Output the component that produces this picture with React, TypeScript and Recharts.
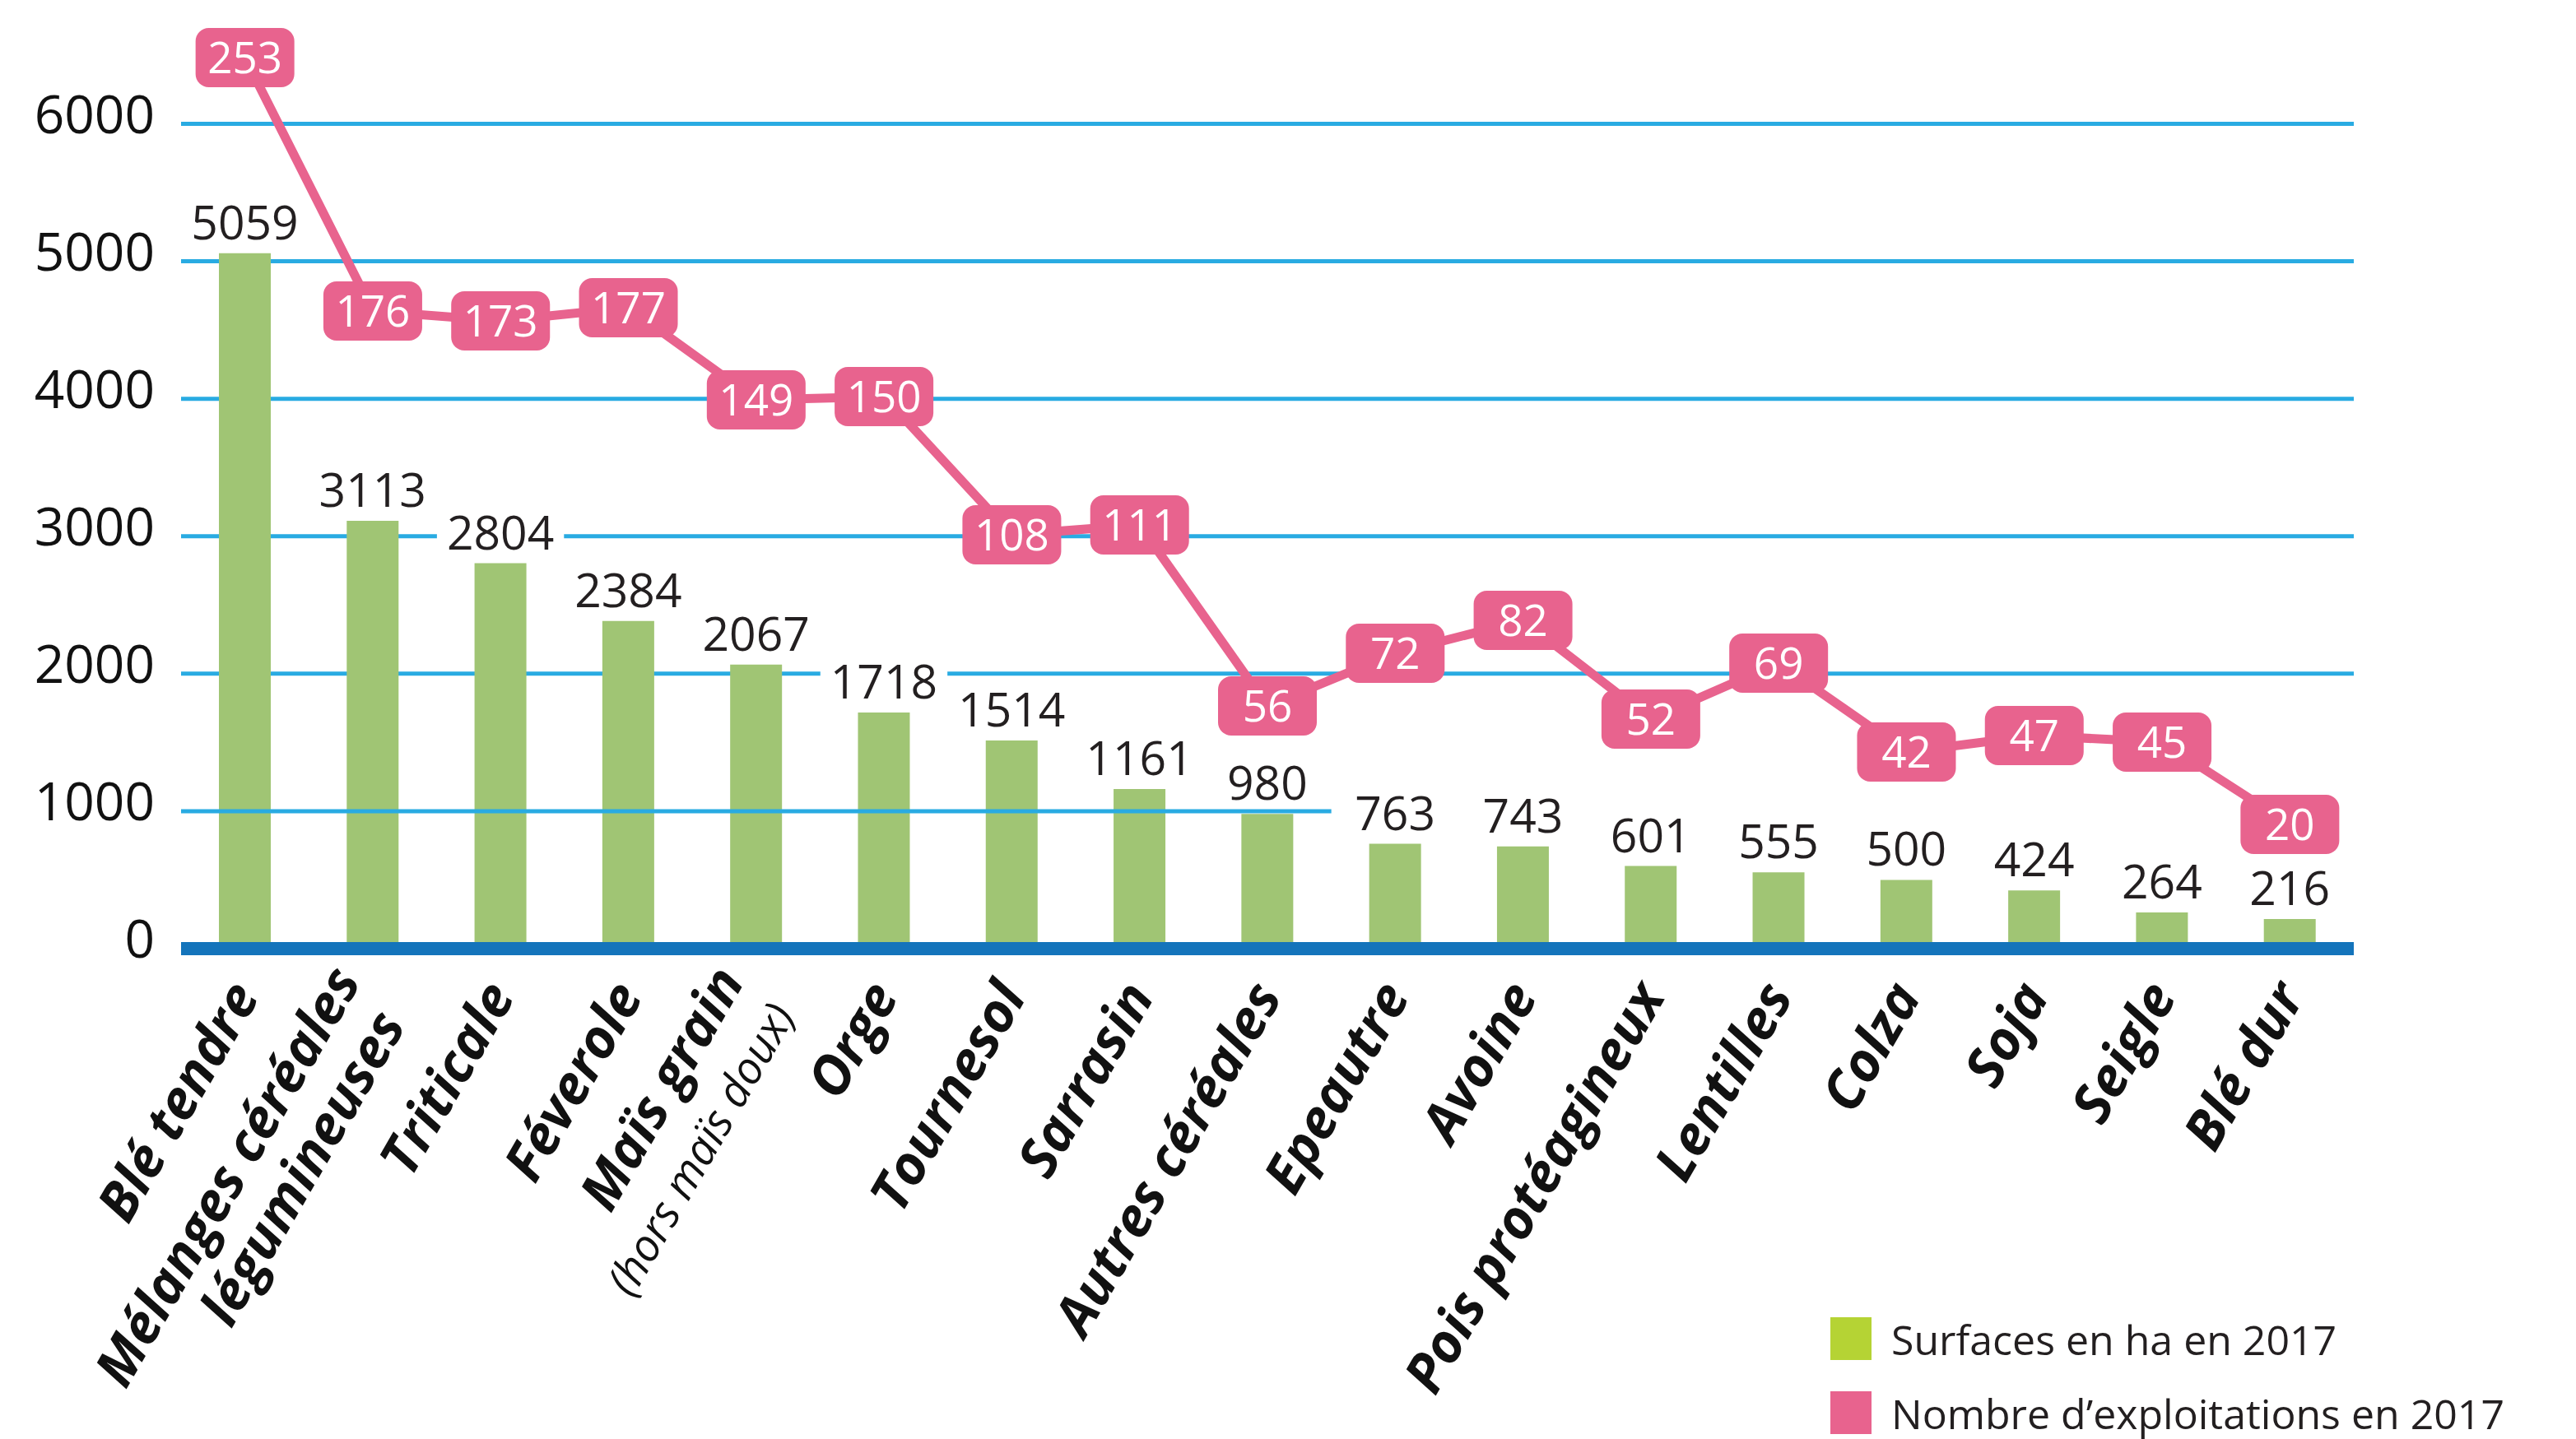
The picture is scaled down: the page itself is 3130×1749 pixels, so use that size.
import { ComposedChart, Bar, Line, XAxis, YAxis, CartesianGrid, ReferenceLine, LabelList, Legend } from "recharts";

const categories = [
  "Blé tendre",
  "Mélanges céréales\nlégumineuses",
  "Triticale",
  "Féverole",
  "Maïs grain",
  "Orge",
  "Tournesol",
  "Sarrasin",
  "Autres céréales",
  "Epeautre",
  "Avoine",
  "Pois protéagineux",
  "Lentilles",
  "Colza",
  "Soja",
  "Seigle",
  "Blé dur",
];
const categoryNotes = ["", "", "", "", "(hors maïs doux)", "", "", "", "", "", "", "", "", "", "", "", ""];
const surfaces = [5059, 3113, 2804, 2384, 2067, 1718, 1514, 1161, 980, 763, 743, 601, 555, 500, 424, 264, 216];
const exploitations = [253, 176, 173, 177, 149, 150, 108, 111, 56, 72, 82, 52, 69, 42, 47, 45, 20];
const surfaceTicks = [0, 1000, 2000, 3000, 4000, 5000, 6000];
const fullGridValues = [2000, 3000, 4000, 5000, 6000];
const seriesNames = ["Surfaces en ha en 2017", "Nombre d’exploitations en 2017"];
const legendColors = ["#b5d334", "#e8638e"];

const FONT = "'Open Sans', sans-serif";
const BAR_COLOR = "#a0c574";
const PINK = "#e8638e";
const GRID_BLUE = "#29abe2";
const AXIS_BLUE = "#1474bb";
const TEXT = "#231f20";

const data = categories.map((name, i) => ({
  name,
  surface: surfaces[i],
  count: exploitations[i],
}));

function SurfaceTick(props: any) {
  const { x, y, payload } = props;
  return (
    <text x={x} y={y + 11} textAnchor="end" fontSize={64} fill="#111" fontFamily={FONT}>
      {payload.value}
    </text>
  );
}

function CategoryTick(props: any) {
  const { x, y, payload, index } = props;
  const lines = String(payload.value).split("\n");
  const note = categoryNotes[index] ?? "";
  const total = lines.length + (note ? 1 : 0);
  const gap = 74;
  const start = (-(total - 1) * gap) / 2;
  return (
    <g transform={`translate(${x + 19},${y + 58}) rotate(-60)`}>
      {lines.map((line, i) => (
        <text
          key={i}
          x={i === 0 ? 0 : -19}
          y={start + i * gap}
          textAnchor="end"
          fontSize={66}
          fontWeight={700}
          fontStyle="italic"
          fill="#111"
          fontFamily={FONT}
        >
          {line}
        </text>
      ))}
      {note && (
        <text
          x={-5}
          y={start + lines.length * gap}
          textAnchor="end"
          fontSize={54}
          fontStyle="italic"
          fill="#111"
          fontFamily={FONT}
        >
          {note}
        </text>
      )}
    </g>
  );
}

// white box behind each value so the grid lines break around it
function SurfaceLabel(props: any) {
  const x = Number(props.x);
  const y = Number(props.y);
  const width = Number(props.width);
  const cx = x + width / 2;
  const base = y - 17;
  const w = String(props.value).length * 32.6 + 24;
  return (
    <g>
      <rect x={cx - w / 2} y={base - 46} width={w} height={50} fill="#fff" />
      <text x={cx} y={base} textAnchor="middle" fontSize={57} fill={TEXT} fontFamily={FONT}>
        {props.value}
      </text>
    </g>
  );
}

function CountBadge(props: any) {
  const { cx, cy, payload, index } = props;
  if (cx == null || cy == null) return <g key={index} />;
  return (
    <g key={index}>
      <rect x={cx - 60} y={cy - 36} width={120} height={72} rx={16} ry={16} fill={PINK} />
      <text x={cx} y={cy + 19} textAnchor="middle" fontSize={53} fill="#fff" fontFamily={FONT}>
        {payload.count}
      </text>
    </g>
  );
}

function ChartLegend() {
  return (
    <div style={{ fontFamily: FONT }}>
      {seriesNames.map((name, i) => (
        <div key={name} style={{ display: "flex", alignItems: "flex-end", height: 52, marginBottom: 38 }}>
          <span style={{ width: 50, height: 52, background: legendColors[i], marginRight: 24, flex: "none" }} />
          <span style={{ fontSize: 50, lineHeight: 1, color: TEXT, whiteSpace: "nowrap" }}>{name}</span>
        </div>
      ))}
    </div>
  );
}

export default function App() {
  return (
    <div style={{ position: "absolute", left: 0, top: 0, width: 3130, height: 1749, background: "#fff", fontFamily: FONT }}>
      <ComposedChart width={3130} height={1749} data={data} margin={{ top: 67, right: 270, bottom: 0, left: 0 }}>
        <CartesianGrid vertical={false} stroke={GRID_BLUE} strokeWidth={5} horizontalValues={fullGridValues} />
        <ReferenceLine
          segment={[
            { x: categories[0], y: 1000 },
            { x: categories[9], y: 1000 },
          ]}
          position="start"
          stroke={GRID_BLUE}
          strokeWidth={5}
        />
        <XAxis
          dataKey="name"
          interval={0}
          tickLine={false}
          tickSize={0}
          tickMargin={0}
          height={596}
          axisLine={{ stroke: AXIS_BLUE, strokeWidth: 16 }}
          tick={<CategoryTick />}
        />
        <YAxis
          width={220}
          domain={[0, 6500]}
          ticks={surfaceTicks}
          axisLine={false}
          tickLine={false}
          tickSize={0}
          tickMargin={32}
          tick={<SurfaceTick />}
        />
        <YAxis yAxisId="right" orientation="right" hide domain={[-17.75, 253.75]} />
        <Bar dataKey="surface" name={seriesNames[0]} fill={BAR_COLOR} barSize={63} isAnimationActive={false}>
          <LabelList dataKey="surface" content={<SurfaceLabel />} />
        </Bar>
        <Line
          yAxisId="right"
          type="linear"
          dataKey="count"
          name={seriesNames[1]}
          stroke={PINK}
          strokeWidth={11}
          dot={(p: any) => <CountBadge key={p.index} {...p} />}
          activeDot={false}
          isAnimationActive={false}
        />
        <Legend
          layout="vertical"
          align="center"
          verticalAlign="middle"
          wrapperStyle={{ left: 2224, top: 1601, width: 900, height: "auto" }}
          content={<ChartLegend />}
        />
      </ComposedChart>
    </div>
  );
}
